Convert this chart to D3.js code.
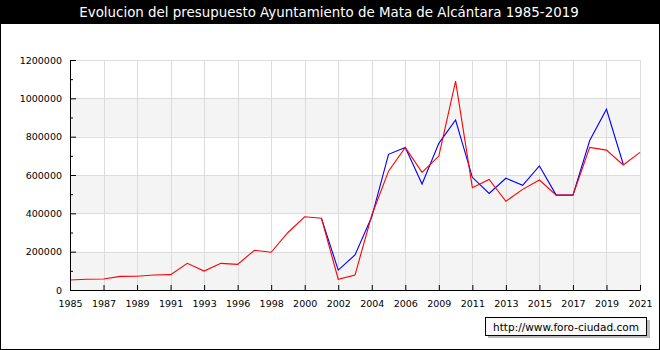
<!DOCTYPE html>
<html>
<head>
<meta charset="utf-8">
<script src="https://cdn.jsdelivr.net/npm/d3@7"></script>
<style>
body { margin: 0; background: #fff; }
svg { display: block; font-family: 'DejaVu Sans', Verdana, sans-serif; }
</style>
</head>
<body>
<div id="chart"></div>
<script>
// years on the x axis (only every other one gets a label)
var years = [1985, 1986, 1987, 1988, 1989, 1990, 1991, 1992, 1993, 1995,
             1996, 1997, 1998, 1999, 2000, 2001, 2002, 2003, 2004, 2005,
             2006, 2007, 2009, 2010, 2011, 2012, 2013, 2014, 2015, 2016,
             2017, 2018, 2019, 2020, 2021];

// red series
var ingresos = [52000, 56000, 57000, 71000, 72000, 78000, 80000, 139000, 99000, 139000,
                134000, 207000, 197000, 300000, 382000, 374000, 56000, 78000, 390000, 620000,
                744000, 614000, 699000, 1090000, 534000, 577000, 463000, 525000, 574000, 495000,
                495000, 744000, 730000, 652000, 718000];

// blue series (starts in 2001, ends in 2020)
var gastos = [null, null, null, null, null, null, null, null, null, null,
              null, null, null, null, null, 374000, 104000, 183000, 382000, 708000,
              744000, 553000, 765000, 887000, 588000, 504000, 583000, 546000, 647000, 495000,
              495000, 780000, 943000, 656000, null];

var yTicks = [0, 200000, 400000, 600000, 800000, 1000000, 1200000];
var yMinor = [100000, 300000, 500000, 700000, 900000, 1100000];
var bands = [[0, 200000], [400000, 600000], [800000, 1000000]];
var title = 'Evolucion del presupuesto Ayuntamiento de Mata de Alcántara 1985-2019';

var W = 660, H = 350;
var margin = {top: 60, right: 20, bottom: 60, left: 70};
var plotW = W - margin.left - margin.right,
    plotH = H - margin.top - margin.bottom;

var svg = d3.select('#chart').append('svg')
    .attr('width', W)
    .attr('height', H);

// title bar
svg.append('rect')
    .attr('x', 0).attr('y', 0)
    .attr('width', W).attr('height', 24)
    .attr('fill', '#000');
svg.append('text')
    .attr('x', W / 2 - 1).attr('y', 17)
    .attr('text-anchor', 'middle')
    .attr('fill', '#fff')
    .style('font-size', '13.4px')
    .text(title);

var g = svg.append('g')
    .attr('transform', `translate(${margin.left},${margin.top})`);

var x = d3.scalePoint()
    .domain(years)
    .range([0, plotW]);

var y = d3.scaleLinear()
    .domain([0, 1200000])
    .range([plotH, 0]);

var labelYears = years.filter((d, i) => i % 2 == 0);

// bands
g.append('g').selectAll('rect')
    .data(bands)
    .enter()
    .append('rect')
    .attr('x', 0)
    .attr('width', plotW)
    .attr('y', d => y(d[1]))
    .attr('height', d => y(d[0]) - y(d[1]))
    .attr('fill', '#f4f4f4');

// grid
g.append('g').selectAll('line')
    .data(yTicks.slice(1))
    .enter()
    .append('line')
    .attr('x1', 0).attr('x2', plotW)
    .attr('y1', d => Math.round(y(d)) + 0.5)
    .attr('y2', d => Math.round(y(d)) + 0.5)
    .attr('stroke', '#dcdcdc');

g.append('g').selectAll('line')
    .data(labelYears.slice(1))
    .enter()
    .append('line')
    .attr('x1', d => Math.round(x(d)) + 0.5)
    .attr('x2', d => Math.round(x(d)) + 0.5)
    .attr('y1', 0).attr('y2', plotH)
    .attr('stroke', '#dcdcdc');

// lines
var line = d3.line()
    .defined(d => d[1] != null)
    .x(d => x(d[0]))
    .y(d => y(d[1]));

g.append('path')
    .datum(years.map((d, i) => [d, gastos[i]]))
    .attr('d', line)
    .attr('fill', 'none')
    .attr('stroke', '#0000ff')
    .attr('stroke-width', 1.1);

g.append('path')
    .datum(years.map((d, i) => [d, ingresos[i]]))
    .attr('d', line)
    .attr('fill', 'none')
    .attr('stroke', '#ff0000')
    .attr('stroke-width', 1.1);

// axes
var ax_y = g.append('g')
    .call(d3.axisLeft(y)
        .tickValues(yTicks)
        .tickSize(-6)
        .tickPadding(8)
        .tickFormat(d3.format('d')));

g.append('g')
    .call(d3.axisLeft(y)
        .tickValues(yMinor)
        .tickSize(-3)
        .tickFormat(''))
    .select('.domain').remove();

var ax_x = g.append('g')
    .attr('transform', `translate(0,${plotH})`)
    .call(d3.axisBottom(x)
        .tickValues(labelYears)
        .tickSize(-5)
        .tickPadding(10)
        .tickFormat(String));

[ax_y, ax_x].forEach(a => {
    a.selectAll('text').style('font-size', '9.5px').attr('fill', '#000').style('font-family', "'DejaVu Sans', Verdana, sans-serif");
    a.selectAll('line').attr('stroke', '#000');
    a.select('.domain').attr('stroke', '#000');
});

// watermark
svg.append('rect')
    .attr('x', 488).attr('y', 320)
    .attr('width', 162).attr('height', 18)
    .attr('fill', '#bbb');
svg.append('rect')
    .attr('x', 485.5).attr('y', 317.5)
    .attr('width', 161).attr('height', 18)
    .attr('fill', '#fafafa')
    .attr('stroke', '#000');
svg.append('text')
    .attr('x', 566).attr('y', 330.5)
    .attr('text-anchor', 'middle')
    .style('font-size', '10.5px')
    .text('http://www.foro-ciudad.com');

// frame
svg.append('rect')
    .attr('x', 0.5).attr('y', 0.5)
    .attr('width', W - 1).attr('height', H - 1)
    .attr('fill', 'none')
    .attr('stroke', '#000');
</script>
</body>
</html>
